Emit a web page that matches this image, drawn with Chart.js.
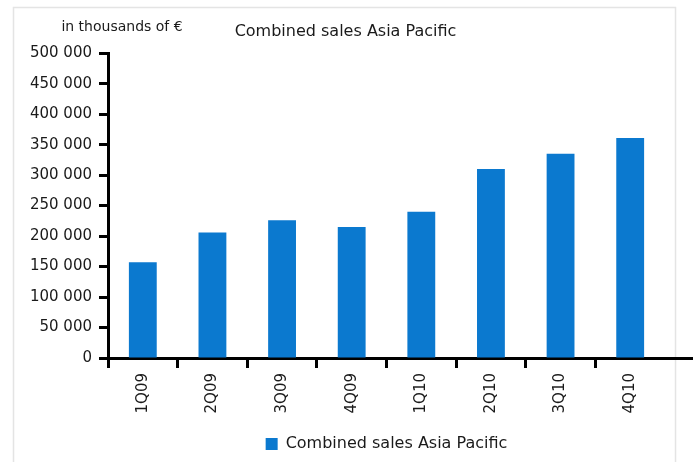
<!DOCTYPE html>
<html>
<head>
<meta charset="utf-8">
<script src="https://cdn.jsdelivr.net/npm/chart.js@4"></script>
<style>
html,body{margin:0;padding:0;background:#fff;}
#wrap{width:694px;height:462px;position:relative;}
</style>
</head>
<body>
<div id="wrap"><canvas id="sales"></canvas></div>
<script>
/* ===== DATA ===== */
const quarters = ["1Q09","2Q09","3Q09","4Q09","1Q10","2Q10","3Q10","4Q10"];
const sales = [157000,206000,226000,215000,240000,310000,335000,361000];
const yMax = 500000;
const yStep = 50000;

const FONT = "'DejaVu Sans', sans-serif";
const BLUE = "#0b79cf";

function spaced(v){
    return String(v).replace(/\B(?=(\d{3})+(?!\d))/g, " ");
}

/* frame, unit label and the long x axis line */
const decor = {
    id:"decor",
    beforeDraw(chart){
        const c = chart.ctx;
        c.save();
        c.fillStyle = "#fff";
        c.fillRect(0,0,chart.width,chart.height);
        c.strokeStyle = "#e4e4e4";
        c.lineWidth = 1.5;
        c.strokeRect(13.5,7.5,662,470);
        c.restore();
    },
    afterDraw(chart){
        const c = chart.ctx;
        const a = chart.chartArea;
        const y = Math.floor(a.bottom) + 0.5;
        c.save();
        c.strokeStyle = "#000";
        c.lineWidth = 3;
        c.beginPath();
        c.moveTo(a.right-1, y);
        c.lineTo(693, y);
        c.stroke();
        c.fillStyle = "#1a1a1a";
        c.font = "14px " + FONT;
        c.textAlign = "center";
        c.textBaseline = "middle";
        c.fillText("in thousands of €", 122, 27);
        c.restore();
    }
};

new Chart(document.getElementById("sales"),{
    type:"bar",
    data:{
        labels:quarters,
        datasets:[{
            label:"Combined sales Asia Pacific",
            data:sales,
            backgroundColor:BLUE,
            borderWidth:0,
            categoryPercentage:1,
            barPercentage:0.4
        }]
    },
    options:{
        responsive:true,
        maintainAspectRatio:false,
        animation:false,
        layout:{padding:{left:26,right:29,top:0,bottom:0}},
        plugins:{
            title:{
                display:true,
                text:"Combined sales Asia Pacific",
                color:"#1a1a1a",
                font:{family:FONT,size:16,weight:"normal"},
                padding:{top:22,bottom:12}
            },
            legend:{
                position:"bottom",
                fullSize:false,
                labels:{
                    color:"#1a1a1a",
                    font:{family:FONT,size:16},
                    boxWidth:12,
                    boxHeight:12,
                    padding:4
                }
            },
            tooltip:{enabled:false}
        },
        scales:{
            x:{
                afterFit(s){ s.height = 74; },
                grid:{
                    offset:true,
                    drawOnChartArea:false,
                    tickLength:10,
                    tickWidth:3,
                    tickColor:(ctx)=> ctx.type === "tick" ? "#000" : "rgba(0,0,0,0)"
                },
                border:{display:true,color:"#000",width:3},
                ticks:{
                    color:"#1a1a1a",
                    font:{family:FONT,size:15},
                    minRotation:90,
                    maxRotation:90,
                    padding:5
                }
            },
            y:{
                min:0,
                max:yMax,
                afterFit(s){ s.width = 82; },
                grid:{
                    drawOnChartArea:false,
                    tickLength:9,
                    tickWidth:3,
                    tickColor:"#000"
                },
                border:{display:true,color:"#000",width:3},
                ticks:{
                    stepSize:yStep,
                    color:"#1a1a1a",
                    font:{family:FONT,size:15},
                    padding:7,
                    callback:(v)=>spaced(v)
                }
            }
        }
    },
    plugins:[decor]
});
</script>
</body>
</html>
